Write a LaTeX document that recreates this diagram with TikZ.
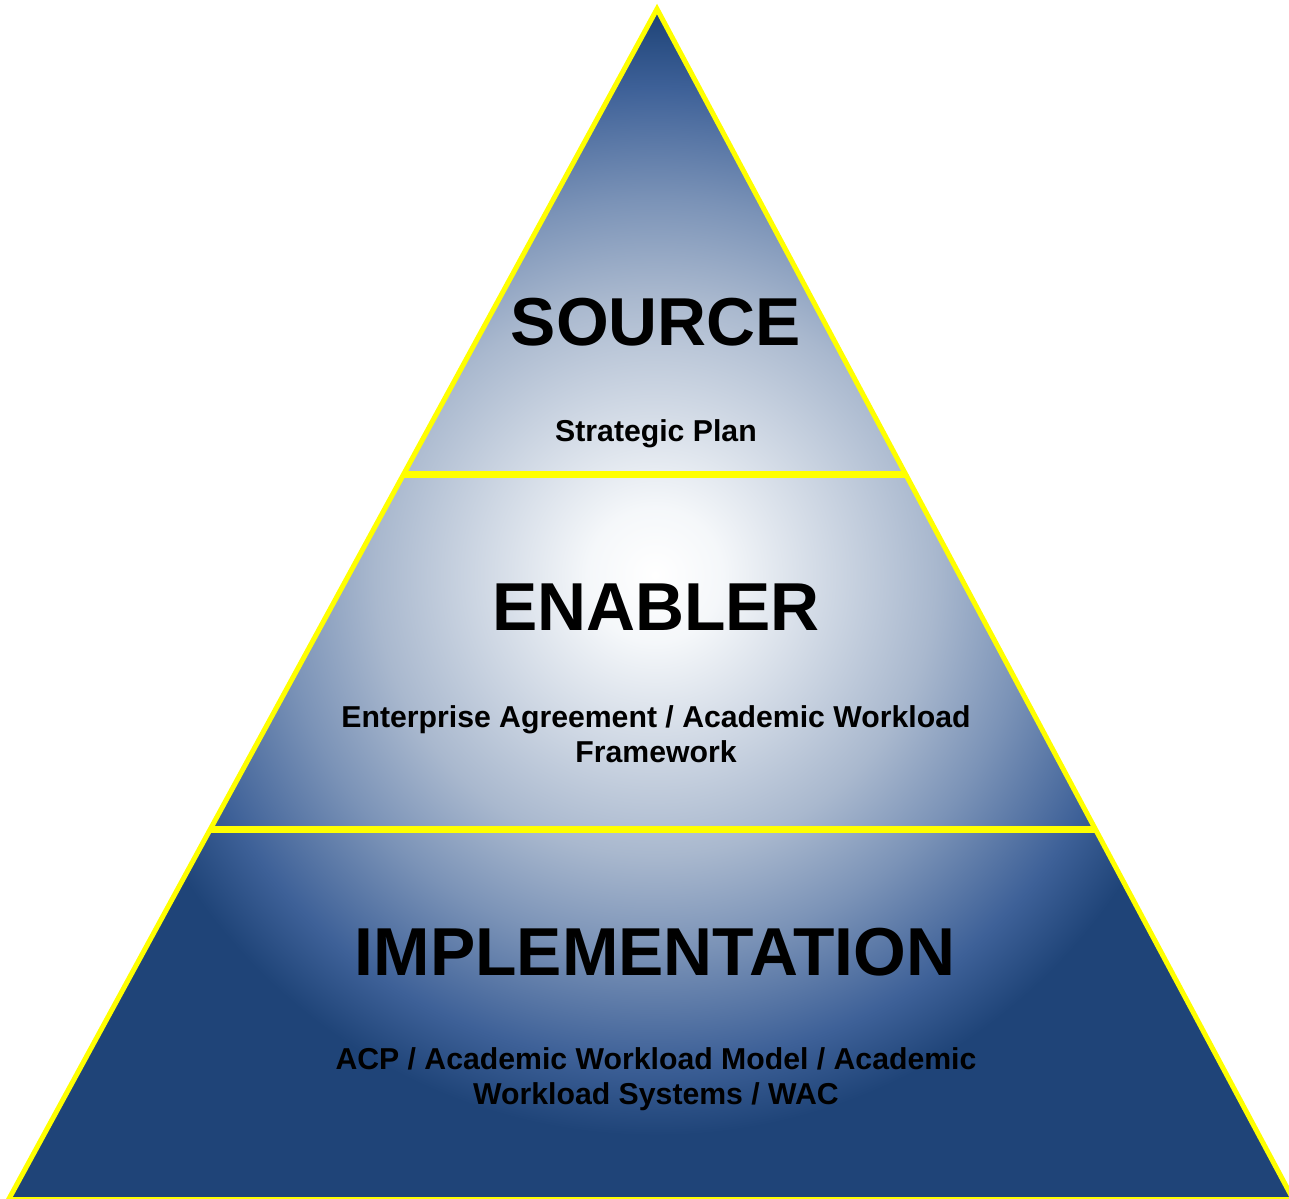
\documentclass[tikz,border=0pt]{standalone}
\usepackage{fontspec}
\setmainfont{Liberation Sans}
\usetikzlibrary{calc}

% soft white glow fading to deep blue (25bp is the rim of the shaded circle)
\pgfdeclareradialshading{pyramidglow}{\pgfpoint{0bp}{0bp}}{%
  rgb(0bp)=(1,1,1);
  rgb(3bp)=(0.96,0.97,0.98);
  rgb(12.5bp)=(0.663,0.722,0.808);
  rgb(16.75bp)=(0.482,0.576,0.718);
  rgb(21.75bp)=(0.243,0.380,0.596);
  rgb(25bp)=(0.122,0.267,0.471);
  rgb(50bp)=(0.122,0.267,0.471)}

\definecolor{pyrblue}{RGB}{31,68,120}
\definecolor{rim}{RGB}{255,255,0}

\begin{document}
\begin{tikzpicture}[x=0.02cm,y=-0.02cm,
  rimline/.style={draw=rim,line width=0.1cm,line join=miter},
  tierline/.style={draw=rim,line width=0.14cm},
  tiertitle/.style={anchor=base,inner sep=0pt,text=black,
    font=\bfseries\fontsize{38.6}{42}\selectfont},
  tiernote/.style={anchor=base,inner sep=0pt,text=black,
    font=\bfseries\fontsize{17.2}{20}\selectfont}]

\useasboundingbox (0,0) rectangle (1289,1198);

% triangle corners
\coordinate (apex) at (657,9);
\coordinate (bl) at (8.6,1199.5);
\coordinate (br) at (1293.3,1199.5);

% ends of the two dividers on the sides
\coordinate (d1l) at ($(apex)!0.3906!(bl)$);
\coordinate (d1r) at ($(apex)!0.3906!(br)$);
\coordinate (d2l) at ($(apex)!0.6888!(bl)$);
\coordinate (d2r) at ($(apex)!0.6888!(br)$);

% body of the pyramid
\fill[pyrblue] (apex) -- (bl) -- (br) -- cycle;
\begin{scope}
  \clip (apex) -- (bl) -- (br) -- cycle;
  \shade[shading=pyramidglow] (655,575) circle (11.2cm);
\end{scope}

% dividers and outline
\draw[tierline] (d1l) -- (d1r);
\draw[tierline] (d2l) -- (d2r);
\draw[rimline] (apex) -- (bl) -- (br) -- cycle;

% labels
\node[tiertitle] (source) at (656,345) {SOURCE};
\node[tiernote] (sourcenote) at (656,441) {Strategic Plan};

\node[tiertitle] (enabler) at (656,630) {ENABLER};
\node[tiernote] (enablernote1) at (656,727) {Enterprise Agreement / Academic Workload};
\node[tiernote] (enablernote2) at (656,762) {Framework};

\node[tiertitle] (impl) at (655,975) {IMPLEMENTATION};
\node[tiernote] (implnote1) at (656,1069) {ACP / Academic Workload Model / Academic};
\node[tiernote] (implnote2) at (656,1104) {Workload Systems / WAC};

\end{tikzpicture}
\end{document}
